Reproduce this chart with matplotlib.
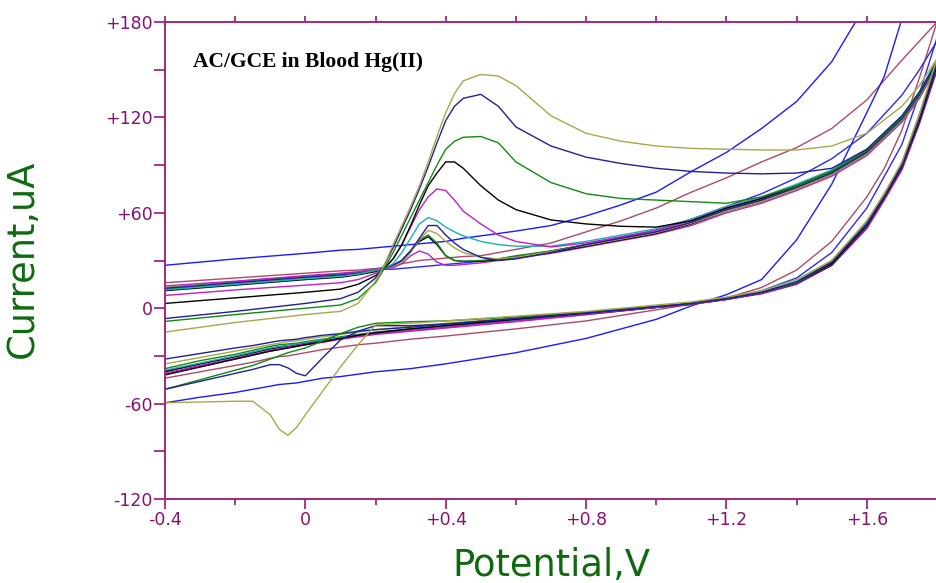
import matplotlib
matplotlib.use('Agg')
import matplotlib.pyplot as plt
import numpy as np
from matplotlib.ticker import MultipleLocator, FixedLocator

nan = np.nan

# potential grids (V) for the anodic (forward) and cathodic (reverse) sweeps
v_fwd = [-0.40, -0.20, 0.00, 0.10, 0.15, 0.20, 0.225, 0.25, 0.275, 0.30, 0.325, 0.35, 0.375, 0.40,
         0.425, 0.45, 0.50, 0.55, 0.60, 0.70, 0.80, 0.90, 1.00, 1.10, 1.20, 1.30, 1.40, 1.50,
         1.60, 1.70, 1.75, 1.80]
v_rev = [1.80, 1.75, 1.70, 1.65, 1.60, 1.50, 1.40, 1.30, 1.20, 1.10, 1.00, 0.80, 0.60, 0.40,
         0.30, 0.20, 0.15, 0.10, 0.05, 0.00, -0.025, -0.05, -0.075, -0.10, -0.15, -0.20, -0.30, -0.40]

# currents (uA), forward sweep
olive_f = [-15, -9, -4, -2, 3, 17, 27, 40, 52, 64, 77, 92, 108, 123, 135, 143, 147, 146, 140, 121,
           110, 105, 102, 100.5, 100, 99.5, 99.5, 102, 110, 127, 140, 157]
navy_f = [-6.5, -2, 3, 6, 10, 19, 27, 38, 50, 62, 75, 89, 104, 118, 127, 132, 134.5, 127, 114, 102,
          95, 91, 88, 86, 85, 84.5, 85, 88, 100, 121, 136, 155]
green_f = [-8.3, -4, 0, 2, 6, 16, 25, 35, 46, 57, 68, 79, 90, 100, 105, 107.5, 108, 104, 92, 79,
           72, 69, 68, 67, 66, 70, 77, 86, 99, 120, 135, 155]
black_f = [3, 6.5, 10, 12, 15, 20.5, 25, 31, 40, 52, 65, 77, 85, 92, 92, 88, 77, 68, 62, 55.5,
           53, 51.5, 51, 55, 63, 69, 77, 86, 99, 120, 135, 155]
magenta_f = [8, 11.5, 14.5, 16, 18, 22, 25.5, 31, 40, 51, 62, 70, 75, 74, 68, 61, 53, 46, 42, 38.5,
             41, 45, 49, 55, 63, 69, 77, 86, 99, 120, 135, 155]
cyan_f = [11.5, 15, 18.5, 20, 21.5, 24, 25, 28, 35, 44, 53, 57, 55, 51, 48, 45.5, 42, 40, 39, 39,
          42, 46, 50, 56, 64, 70, 78, 87, 100, 121, 136, 156]
navy2_f = [12.5, 16, 19.5, 21, 22, 24, 25, 27, 30, 36, 44, 52, 52, 46, 41, 37, 32, 30, 31, 35,
           40, 44, 48, 54, 62, 68, 76, 85, 98, 119, 134, 154]
olive2_f = [13, 16, 19.5, 21, 22, 24, 25, 26.5, 29, 35, 43, 49, 47, 42, 38, 35, 32, 31, 32, 35.5,
            39.5, 43.5, 47.5, 53.5, 61, 67, 75, 84, 97, 118, 133, 153]
green2_f = [12, 15.5, 19, 20.5, 21.5, 23.5, 25, 27, 30, 36, 43, 46, 41, 33, 30, 29.5, 30, 31, 33,
            36, 40, 44, 48, 54, 62, 68, 76, 85, 98, 120, 136, 156]
black2_f = [11, 14.5, 18, 19.5, 21, 23, 25, 27, 30, 36, 42, 45, 40, 33, 30, 29.5, 29.5, 30.5, 32,
            35, 39, 43, 47, 53, 61, 67, 75, 84, 97, 118, 133, 153]
magenta2_f = [14, 17, 20.5, 22, 23, 24.5, 25, 25.5, 28, 33, 36, 34, 29, 27, 27, 27.5, 28.5, 30,
              31.5, 34.5, 38.5, 42.5, 46.5, 52, 60, 66, 74, 83, 96, 117, 132, 152]
blue2_f = [13, 16.5, 20, 21.5, 22.5, 24, 24.5, 24.5, 25, 25.5, 26, 26.5, 27, 27.5, 28, 28.5, 29.5,
           31, 32.5, 36, 40, 44.5, 49, 56, 64, 72, 82, 94, 110, 134, 150, 168]
maroon_f = [16, 19, 22, 23.5, 24, 25, 25.5, 26.5, 28, 29, 30, 30.5, 31, 31.5, 32, 32.5, 33, 35, 37,
            41, 48, 55, 63, 73, 82, 92, 101, 113, 131, 156, 168, 180]
blue_f = [27, 31, 34.5, 36.5, 37, 38, 38.5, 39, 39.5, 40, 40.5, 41, 41.5, 42, 43, 44, 45.5, 47,
          48.5, 52, 58, 65, 73, 86, 98, 113, 130, 155, 192, nan, nan, nan]

# currents (uA), reverse sweep
olive_r = [157, 122, 92, 72, 55, 30, 18, 11, 7, 4, 2, -2, -5, -8, -9.5, -10.5, -23, -37, -52, -67,
           -75, -80, -76, -67, -58.5, -58.5, -59, -59.5]
navy_r = [155, 120, 90, 71, 53, 29, 16.5, 10, 6, 3, 1, -3, -6.5, -10, -11, -11, -14.5, -20, -31,
          -42.5, -41, -37.5, -35.5, -35.5, -38.5, -41, -46, -51]
green_r = [155, 120, 90, 71, 53, 29, 16, 10, 6, 3, 1, -2.5, -5.5, -8, -8.5, -9.5, -12, -16, -20.5,
           -25, -26.5, -28, -30, -32, -36, -39, -45, -51]
black_r = [153, 118, 89, 70, 52, 28, 16, 10, 6, 3, 1, -3, -7, -11, -13, -15.5, -17, -19, -21, -23,
           -24, -25, -26, -27, -29.5, -32, -37, -42]
magenta_r = [152, 117, 88, 69, 51, 27.5, 15.5, 9.5, 5.5, 2.5, 0.5, -3.5, -8, -12, -14, -16, -17.5,
             -19, -21, -22.5, -23.5, -24.5, -25.5, -26.5, -29, -31.5, -36, -41]
cyan_r = [152, 119, 90, 72, 54, 30, 17, 10.5, 6, 3, 1, -3, -7.5, -11.5, -13.5, -15.5, -17, -18.5,
          -20, -21.5, -22.5, -23.5, -24, -25, -27.5, -30, -34.5, -39]
navy2_r = [150, 117, 88, 70, 52, 28, 16, 10, 6, 3, 1, -2.5, -6.5, -10, -12, -13.5, -14.5, -16, -17,
           -18.5, -19.5, -20, -20.5, -21.5, -23.5, -25, -28.5, -32]
olive2_r = [151, 118, 89, 70, 52, 28, 16, 10, 6, 3, 1, -2.5, -6, -9.5, -11.5, -13.5, -15, -16.5,
            -18, -19.5, -20.5, -21, -22, -23, -25, -27, -31, -35]
green2_r = [156, 122, 91, 72, 54, 29, 16.5, 10, 6, 3, 1, -3, -7, -11, -13, -15, -16.5, -18, -19.5,
            -21, -22, -22.5, -23, -24, -26.5, -29, -33, -38]
black2_r = [153, 118, 88, 69, 51, 27, 15.5, 9.5, 5.5, 2.5, 0.5, -3.5, -7.5, -11.5, -13.5, -15.5,
            -17, -18.5, -20, -22, -23, -23.5, -24.5, -25.5, -28, -30.5, -35, -40]
magenta2_r = [150, 116, 87, 68, 50, 27, 15, 9, 5.5, 2.5, 0.5, -4, -8.5, -12.5, -14.5, -16.5, -18,
              -19.5, -21.5, -23, -24, -25, -26, -27, -29.5, -32, -36.5, -41.5]
blue2_r = [170, 135, 103, 83, 63, 35, 19, 11, 6.5, 3, 0.5, -4, -8, -12, -14, -16, -17.5, -19,
           -20.5, -22, -23, -24, -24.5, -25.5, -28, -30.5, -35, -39.5]
maroon_r = [180, 145, 112, 88, 70, 42, 24, 13, 6.5, 2.5, -1, -8, -13, -17.5, -19.5, -22, -23,
            -24.5, -26, -28, -29, -30, -30.5, -31.5, -34, -36, -40, -44]
blue_r = [nan, nan, 182, 146, 123, 78, 43, 18, 8.5, 1.5, -7, -19, -28, -35, -38, -40, -41.5, -43,
          -44, -46, -47, -47.5, -48, -49, -51, -53, -56, -59.5]

curves = [
    (maroon_f, maroon_r, '#b04868'),
    (blue_f, blue_r, '#1a1aff'),
    (blue2_f, blue2_r, '#2a2af0'),
    (magenta2_f, magenta2_r, '#c020c0'),
    (black2_f, black2_r, '#000000'),
    (green2_f, green2_r, '#108a10'),
    (olive2_f, olive2_r, '#a8a848'),
    (navy2_f, navy2_r, '#20209a'),
    (cyan_f, cyan_r, '#18b0b0'),
    (magenta_f, magenta_r, '#c020c0'),
    (black_f, black_r, '#000000'),
    (green_f, green_r, '#108a10'),
    (navy_f, navy_r, '#20209a'),
    (olive_f, olive_r, '#a8a848'),
]

axcol = '#a02880'
labcol = '#8a1070'
titcol = '#0d6b0d'

fig = plt.figure(figsize=(9.37, 5.83), dpi=100)
ax = fig.add_axes([165/937, 1 - 499/583, 772/937, 477/583])

for fwd, rev, col in curves:
    v = np.concatenate([v_fwd, v_rev])
    i = np.concatenate([fwd, rev])
    ax.plot(v, i, '-', color=col, linewidth=1.0)

ax.set_xlim(-0.4, 1.8)
ax.set_ylim(-120, 180)

ax.spines['right'].set_visible(False)
for s in ['left', 'bottom', 'top']:
    ax.spines[s].set_color(axcol)
    ax.spines[s].set_linewidth(1.4)

ax.xaxis.set_major_locator(FixedLocator([-0.4, 0, 0.4, 0.8, 1.2, 1.6]))
ax.xaxis.set_minor_locator(FixedLocator([-0.2, 0.2, 0.6, 1.0, 1.4, 1.8]))
ax.set_xticklabels(['-0.4', '0', '+0.4', '+0.8', '+1.2', '+1.6'])
ax.yaxis.set_major_locator(FixedLocator([-120, -60, 0, 60, 120, 180]))
ax.yaxis.set_minor_locator(MultipleLocator(30))
ax.set_yticklabels(['-120', '-60', '0', '+60', '+120', '+180'])

ax.tick_params(axis='x', which='major', direction='out', length=7.5, width=1.3, color=axcol,
               labelcolor=labcol, labelsize=12.5, pad=1, top=True)
ax.tick_params(axis='x', which='minor', direction='out', length=4, width=1.3, color=axcol, top=True)
ax.tick_params(axis='y', which='both', direction='out', length=8, width=1.3, color=axcol,
               labelcolor=labcol, labelsize=12.5, pad=1)

# top axis ticks are shorter than the bottom ones
for t in ax.xaxis.get_major_ticks() + ax.xaxis.get_minor_ticks():
    t.tick2line.set_markersize(4.3)

ax.text(0.036, 0.916, 'AC/GCE in Blood Hg(II)', transform=ax.transAxes, fontsize=15.5,
        fontweight='bold', family='Liberation Serif', color='black', va='center')

fig.text(22/937, 1 - 259/583, 'Current,uA', rotation=90, color=titcol, fontsize=26.5,
         ha='center', va='center')
fig.text(551/937, 1 - 566/583, 'Potential,V', color=titcol, fontsize=26.5,
         ha='center', va='center')

fig.savefig('out.png', dpi=100)
